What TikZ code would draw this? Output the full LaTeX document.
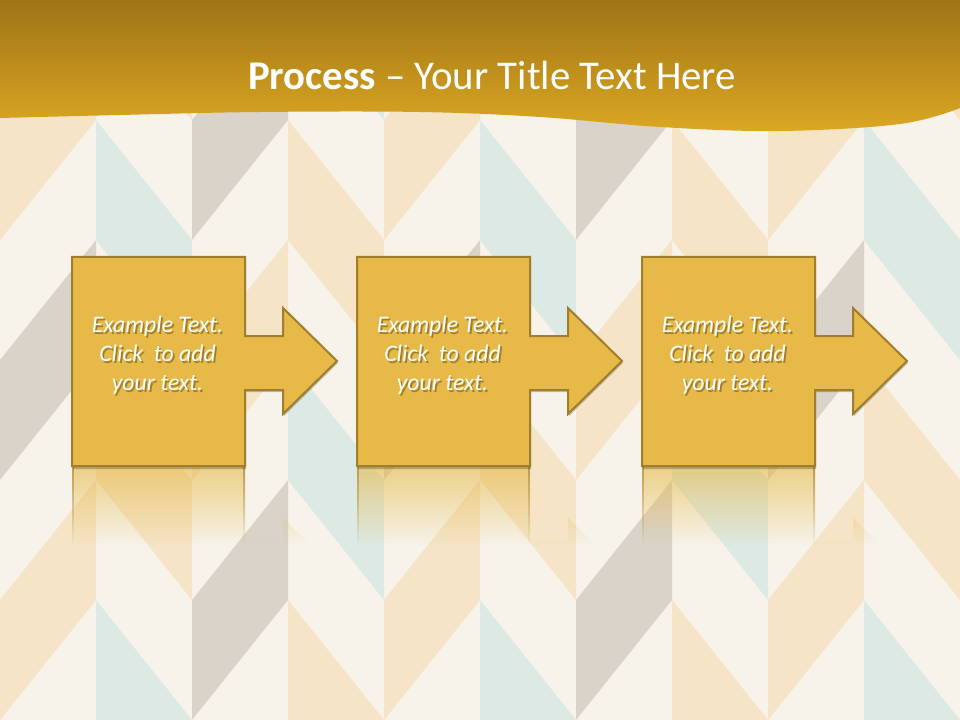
\documentclass[tikz,border=0pt]{standalone}
\usepackage{fontspec}
\setmainfont{Carlito}
\usetikzlibrary{fadings}
\definecolor{cream}{HTML}{F7F3EA}
\definecolor{orng}{HTML}{F5E4C6}
\definecolor{gry}{HTML}{D9D3CA}
\definecolor{blu}{HTML}{DDE9E4}
\colorlet{bgc0}{orng}\colorlet{bgc1}{gry}
\colorlet{bgc2}{blu}\colorlet{bgc3}{orng}
\colorlet{bgc4}{gry}\colorlet{bgc5}{orng}
\colorlet{bgc6}{orng}\colorlet{bgc7}{blu}
\definecolor{boxfill}{HTML}{E6B948}
\definecolor{boxline}{HTML}{A17E2C}
\definecolor{bantop}{HTML}{9E7415}
\definecolor{banbot}{HTML}{DCA723}
\definecolor{shadowc}{HTML}{4A3608}
\tikzfading[name=reflfade, top color=transparent!40, bottom color=transparent!100]
\begin{document}
\begin{tikzpicture}[x=0.75pt,y=-0.75pt,
  procbox/.style={fill=boxfill, draw=boxline, line width=1.5pt, line join=miter},
  boxtext/.style={text=white, font=\fontsize{17.8}{21.75}\selectfont\itshape, align=center, inner sep=0pt},
  boxtextshadow/.style={text=shadowc, text opacity=0.45, font=\fontsize{17.8}{21.75}\selectfont\itshape, align=center, inner sep=0pt},
  titletext/.style={text=white, font=\fontsize{30.6}{36}\selectfont, inner sep=0pt}]
\useasboundingbox (0,0) rectangle (960,720);
\fill[cream] (0,0) rectangle (960,720);
% herringbone background
\begin{scope}
\clip (0,0) rectangle (960,720);
\foreach \c in {0,...,9}{
  \foreach \j in {-1,0,1,2}{
    \pgfmathsetmacro\xl{96*\c}
    \pgfmathsetmacro\xr{96*\c+96}
    \pgfmathsetmacro\yl{240*\j+120}
    \pgfmathsetmacro\yr{240*\j+120+120*(2*mod(\c,2)-1)}
    \pgfmathtruncatemacro\idx{2*mod(\c,4)+mod(\j+2,2)}
    \fill[bgc\idx] (\xl,\yl) -- (\xr,\yr) -- (\xr,\yr+120) -- (\xl,\yl+120) -- cycle;
  }
}
\end{scope}
% banner
\shade[top color=bantop, bottom color=banbot]
  (0,0) -- (960,0) -- plot[smooth, tension=0.6] coordinates
  {(960,108) (900,124) (780,131) (660,127) (540,117) (420,112) (260,112) (120,115) (0,118)} -- cycle;
\node[titletext] (title) at (492,75) {\textbf{Process} – Your Title Text Here};
% process boxes
\foreach \i/\dx in {1/0,2/285,3/570}{
  \begin{scope}[shift={(\dx,0)}]
    % reflection
    \begin{scope}
      \clip (72,467) -- (245,467) -- (245,542) -- (283,542) -- (283,518) -- (337,571) -- (283,624) -- (283,596) -- (245,596) -- (245,675) -- (72,675) -- cycle;
      \fill[boxfill, path fading=reflfade] (60,467) rectangle (350,545);
      \fill[boxline, path fading=reflfade] (71,467) rectangle (74,545);
      \fill[boxline, path fading=reflfade] (243,467) rectangle (246,545);
    \end{scope}
    % shadow
    \fill[black, opacity=0.22] (73,259) -- (246,259) -- (246,338) -- (284,338) -- (284,310) -- (338,363) -- (284,416) -- (284,392) -- (246,392) -- (246,469) -- (73,469) -- cycle;
    % shape
    \path[procbox] (72,257) -- (245,257) -- (245,336) -- (283,336) -- (283,308) -- (337,361) -- (283,414) -- (283,390) -- (245,390) -- (245,466) -- (72,466) -- cycle;
  \end{scope}
  \pgfmathsetmacro\tx{157.5+\dx}
  \node[boxtextshadow] at (\tx+1.8,357) {Example Text.\\Click\ \ to add\\your text.};
  \node[boxtext] (box\i) at (\tx,355) {Example Text.\\Click\ \ to add\\your text.};
}
\end{tikzpicture}
\end{document}
